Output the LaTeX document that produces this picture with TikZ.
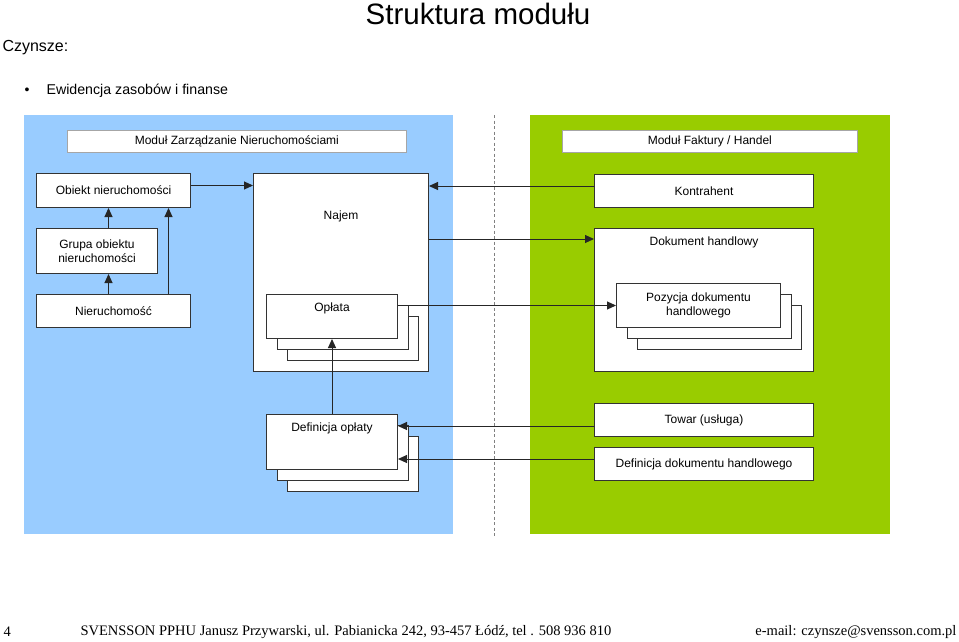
\documentclass[tikz,border=0pt]{standalone}
\usepackage{fontspec}
\setmainfont{Liberation Serif}
\setsansfont{Liberation Sans}
\usepackage{tikz}
\usetikzlibrary{positioning, shadows, arrows.meta}
\definecolor{zmBlue}{HTML}{99CCFF}
\definecolor{fhGreen}{HTML}{99CC00}
\tikzset{
    block/.style={
        draw = black!80, fill = white,
        line width = 1pt,
        anchor = north west,
        inner sep = 2pt,
        align = center,
        font = \sffamily\fontsize{12}{14.5}\selectfont
    },
    header/.style = {block, draw = black!35, line width = 0.7pt},
    stack/.style = {double copy shadow = {shadow xshift = 10.5pt, shadow yshift = -11pt,
        draw = black!80, fill = white, line width = 1pt}},
    caption/.style = {inner sep = 0pt, font = \sffamily\fontsize{12}{14}\selectfont},
    line/.style = {-{Triangle[length=9pt, width=8pt]}, line width = 1pt, black!85}
}
\begin{document}
\begin{tikzpicture}[x=1pt, y=-1pt]
    \useasboundingbox (0,0) rectangle (959,642);

    % Title and bullet
    \node (title) at (478,14) {\sffamily\fontsize{29.5}{32}\selectfont Struktura modułu};
    \node[anchor=west] (czynsze) at (-1,48) {\sffamily\fontsize{16}{18}\selectfont Czynsze:};
    \node (dot) at (27,91) {\sffamily\fontsize{14}{16}\selectfont\textbullet};
    \node[anchor=west] (ewid) at (43,91) {\sffamily\fontsize{14.2}{16}\selectfont Ewidencja zasobów i finanse};

    % Module areas
    \fill[zmBlue] (24,115) rectangle (453,534);
    \fill[fhGreen] (530,115) rectangle (890,534);
    \draw[black!50, line width=1pt, dash pattern=on 3pt off 2.5pt] (494,115) -- (494,536);

    % Headers
    \node[header, minimum width=339pt, minimum height=22pt] (modZN) at (67,130) {Moduł Zarządzanie Nieruchomościami};
    \node[header, minimum width=295pt, minimum height=22pt] (modFH) at (562,130) {Moduł Faktury / Handel};

    % Blocks
    \node[block, minimum width=154pt, minimum height=34pt] (obiekt) at (36,173) {Obiekt nieruchomości};
    \node[block, minimum width=121pt, minimum height=45pt] (grupa) at (36,228) {Grupa obiektu\\nieruchomości};
    \node[block, minimum width=154pt, minimum height=33pt] (nieruch) at (36,294) {Nieruchomość};
    \node[block, minimum width=175pt, minimum height=198pt] (najem) at (253,173) {};
    \node[caption, below=38pt of najem.north] (najemTxt) {Najem};
    \node[block, stack, minimum width=131pt, minimum height=44pt] (oplata) at (266,294) {};
    \node[caption, below=9pt of oplata.north] (oplataTxt) {Opłata};
    \node[block, stack, minimum width=131pt, minimum height=55pt] (defOpl) at (266,414) {};
    \node[caption, below=9pt of defOpl.north] (defOplTxt) {Definicja opłaty};

    \node[block, minimum width=219pt, minimum height=33pt] (kontr) at (594,174) {Kontrahent};
    \node[block, minimum width=219pt, minimum height=143pt] (dokH) at (594,228) {};
    \node[caption, below=8.5pt of dokH.north] (dokHTxt) {Dokument handlowy};
    \node[block, stack, minimum width=164pt, minimum height=44pt] (pozycja) at (616,283) {Pozycja dokumentu\\handlowego};
    \node[block, minimum width=219pt, minimum height=33pt] (towar) at (594,403) {Towar (usługa)};
    \node[block, minimum width=219pt, minimum height=33pt] (defDok) at (594,447) {Definicja dokumentu handlowego};

    % Lines
    \draw[line] ([xshift=-5pt]nieruch.north) -- ([xshift=-5pt]nieruch.north |- grupa.south);
    \draw[line] ([xshift=-5pt]nieruch.north |- grupa.north) -- ([xshift=-5pt]nieruch.north |- obiekt.south);
    \draw[line] ([xshift=55pt]nieruch.north) -- ([xshift=55pt]obiekt.south);
    \draw[line] ([yshift=5pt]obiekt.east) -- ([yshift=5pt]obiekt.east -| najem.west);
    \draw[line] ([yshift=5pt]kontr.west) -- ([yshift=5pt]kontr.west -| najem.east);
    \draw[line] ([yshift=-11pt]dokH.north west -| najem.east) -- ([yshift=-11pt]dokH.north west);
    \draw[line] (oplata.east |- pozycja.west) -- (pozycja.west);
    \draw[line] (defOpl.north) -- (oplata.south);
    \draw[line] ([yshift=-6pt]towar.west) -- ([yshift=-6pt]towar.west -| defOpl.east);
    \draw[line] ([yshift=5pt]defDok.west) -- ([yshift=5pt]defDok.west -| defOpl.east);

    % Footer
    \node[anchor=west] (page) at (0,632) {\fontsize{14.5}{16}\selectfont 4};
    \node[anchor=west] (firma) at (77,632) {\fontsize{14.5}{16}\selectfont SVENSSON PPHU Janusz Przywarski, ul. Pabianicka 242, 93-457 Łódź, tel . 508 936 810};
    \node[anchor=east] (mail) at (960,632) {\fontsize{14.5}{16}\selectfont e-mail: czynsze@svensson.com.pl};
\end{tikzpicture}
\end{document}
